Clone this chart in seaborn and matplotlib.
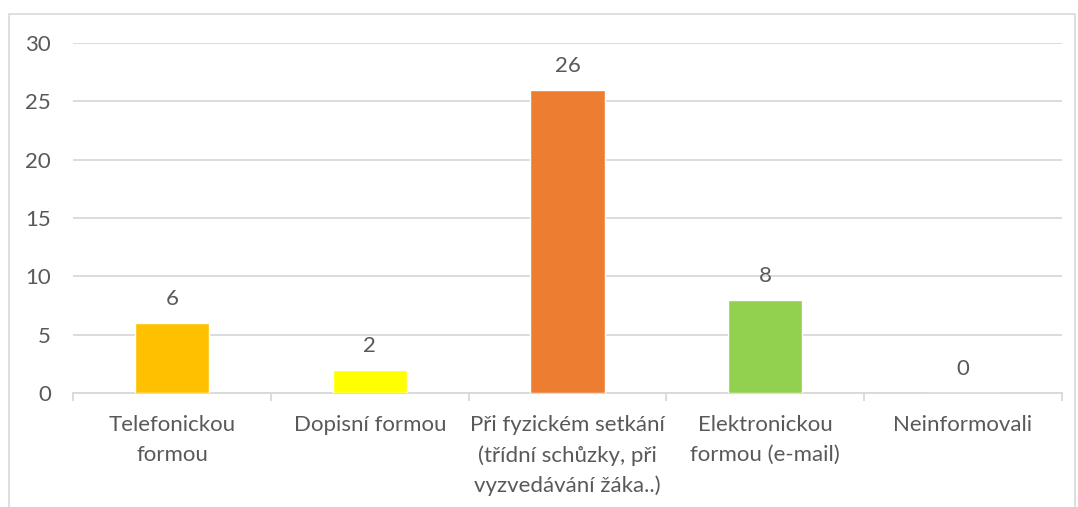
import matplotlib
matplotlib.use("Agg")
import matplotlib.pyplot as plt
import seaborn as sns
import pandas as pd
from matplotlib.patches import Rectangle

categories = ["Telefonickou\nformou", "Dopisní formou",
              "Při fyzickém setkání\n(třídní schůzky, při\nvyzvedávání žáka..)",
              "Elektronickou\nformou (e-mail)", "Neinformovali"]
values = [6, 2, 26, 8, 0]
bar_colors = ["#FFC000", "#FFFF00", "#ED7D31", "#92D050", "#A5A5A5"]

df = pd.DataFrame({"kategorie": categories, "pocet": values})

sns.set_style("white")
plt.rcParams["font.family"] = ["Lato", "DejaVu Sans"]
text_col = "#595959"
grid_col = "#D9D9D9"

fig = plt.figure(figsize=(10.78, 5.07), dpi=100)
ax = fig.add_axes([0.068, 0.225, 0.917, 0.69])

sns.barplot(data=df, x="kategorie", y="pocet", hue="kategorie",
            palette=bar_colors, width=0.375, saturation=1, legend=False,
            ax=ax, zorder=3)

ax.set_ylim(0, 30)
ax.set_xlim(-0.5, len(categories) - 0.5)
ax.set_yticks(range(0, 31, 5))
ax.yaxis.grid(True, color=grid_col, linewidth=1.3, zorder=0)
ax.set_axisbelow(True)
for s in ["top", "right", "left"]:
    ax.spines[s].set_visible(False)
ax.spines["bottom"].set_color(grid_col)
ax.spines["bottom"].set_linewidth(1.3)

ax.set_xlabel("")
ax.set_ylabel("")
ax.tick_params(axis="y", length=0, labelsize=16, labelcolor=text_col, pad=16)
ax.tick_params(axis="x", length=0, labelsize=16, labelcolor=text_col, pad=16)
for lab in ax.get_xticklabels():
    lab.set_linespacing(1.6)

# category boundary ticks below the axis
bounds = [i - 0.5 for i in range(len(categories) + 1)]
ax.set_xticks(bounds, minor=True)
ax.tick_params(axis="x", which="minor", bottom=True, length=6,
               color=grid_col, width=1.3)

for i, v in enumerate(values):
    ax.annotate(str(v), (i, v), xytext=(0, 10), textcoords="offset points",
                ha="center", va="bottom", fontsize=16, color=text_col)

fig.patches.append(Rectangle((0.0083, -0.1), 0.989, 1.072, transform=fig.transFigure,
                             fill=False, edgecolor=grid_col, linewidth=1.2))

fig.savefig("out.png", dpi=100)
